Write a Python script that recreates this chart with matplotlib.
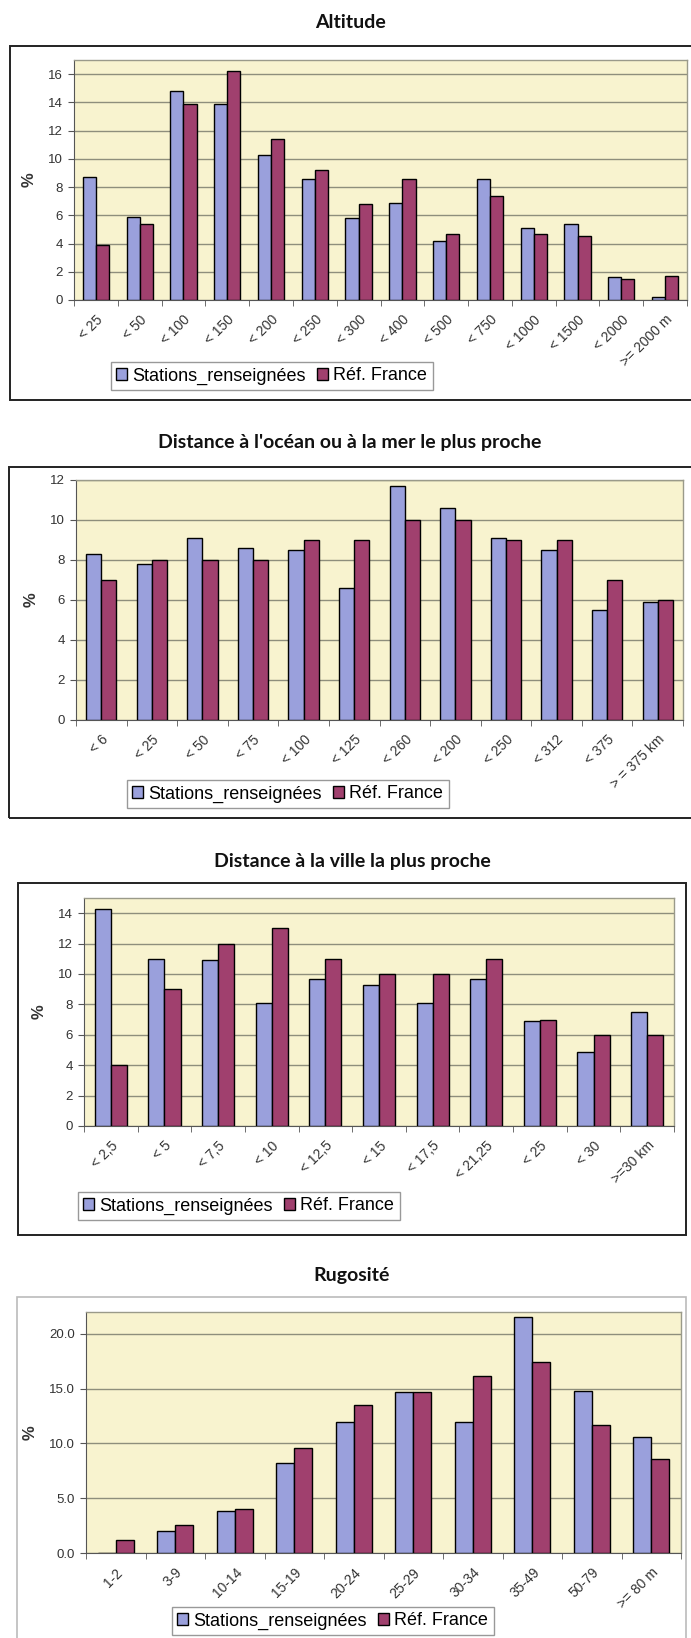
import matplotlib
matplotlib.use('Agg')
import matplotlib.pyplot as plt
from matplotlib.patches import Rectangle
import numpy as np

plt.rcParams['font.family'] = ['Liberation Sans', 'DejaVu Sans']

# ---- data ----
alt_labels = ['< 25', '< 50', '< 100', '< 150', '< 200', '< 250', '< 300', '< 400',
              '< 500', '< 750', '< 1000', '< 1500', '< 2000', '>= 2000 m']
alt_stations = [8.7, 5.9, 14.8, 13.9, 10.3, 8.6, 5.8, 6.9, 4.2, 8.6, 5.1, 5.4, 1.6, 0.2]
alt_france = [3.9, 5.4, 13.9, 16.2, 11.4, 9.2, 6.8, 8.6, 4.7, 7.4, 4.7, 4.5, 1.5, 1.7]

mer_labels = ['< 6', '< 25', '< 50', '< 75', '< 100', '< 125', '< 260', '< 200',
              '< 250', '< 312', '< 375', '> = 375 km']
mer_stations = [8.3, 7.8, 9.1, 8.6, 8.5, 6.6, 11.7, 10.6, 9.1, 8.5, 5.5, 5.9]
mer_france = [7, 8, 8, 8, 9, 9, 10, 10, 9, 9, 7, 6]

ville_labels = ['< 2,5', '< 5', '< 7,5', '< 10', '< 12,5', '< 15', '< 17,5', '< 21,25',
                '< 25', '< 30', '>=30 km']
ville_stations = [14.3, 11.0, 10.9, 8.1, 9.7, 9.3, 8.1, 9.7, 6.9, 4.9, 7.5]
ville_france = [4, 9, 12, 13, 11, 10, 10, 11, 7, 6, 6]

rug_labels = ['1-2', '3-9', '10-14', '15-19', '20-24', '25-29', '30-34', '35-49',
              '50-79', '>= 80 m']
rug_stations = [0, 2.0, 3.8, 8.2, 12.0, 14.7, 12.0, 21.5, 14.8, 10.6]
rug_france = [1.2, 2.6, 4.0, 9.6, 13.5, 14.7, 16.2, 17.4, 11.7, 8.6]

W, H = 691, 1638
fig = plt.figure(figsize=(W / 100, H / 100), dpi=100)
fig.patch.set_facecolor('white')

BLUE = '#9AA0DC'
MAROON = '#A0406E'
PLOT_BG = '#F8F3CF'
GRID = '#8E8E7C'


def fx(px):
    return px / W


def fy(py):
    return 1 - py / H


def draw_chart(title, title_y, frame, plot, legend_xy, labels, s1, s2,
               ymax, yticks, ytick_labels, frame_color='#222222', frame_lw=1.4):
    # outer frame of the chart
    fx0, fy0, fx1, fy1 = frame
    fig.patches.append(Rectangle((fx(fx0), fy(fy1)), fx(fx1 - fx0), (fy1 - fy0) / H,
                                 transform=fig.transFigure, fill=False,
                                 edgecolor=frame_color, linewidth=frame_lw, zorder=0))
    # title
    fig.text(fx((fx0 + min(fx1, 691)) / 2), fy(title_y), title, ha='center', va='center',
             fontsize=14, fontweight='bold', family=['Lato', 'DejaVu Sans'], color='#111111')

    px0, py0, px1, py1 = plot
    ax = fig.add_axes([fx(px0), fy(py1), fx(px1 - px0), (py1 - py0) / H])
    ax.set_facecolor(PLOT_BG)

    n = len(labels)
    x = np.arange(n)
    bw = 0.3
    ax.bar(x - bw / 2, s1, width=bw, color=BLUE, edgecolor='black', linewidth=1.0,
           label='Stations_renseignées', zorder=3)
    ax.bar(x + bw / 2, s2, width=bw, color=MAROON, edgecolor='black', linewidth=1.0,
           label='Réf. France', zorder=3)

    ax.set_xlim(-0.5, n - 0.5)
    ax.set_ylim(0, ymax)
    ax.set_yticks(yticks)
    ax.set_yticklabels(ytick_labels)
    ax.yaxis.grid(True, color=GRID, linewidth=1.0)
    ax.set_axisbelow(True)

    # category labels centered, tick marks between categories
    ax.set_xticks(x)
    ax.set_xticklabels(labels, rotation=45, ha='right', rotation_mode='anchor',
                       fontsize=10, color='#333333')
    ax.tick_params(axis='x', which='major', length=0, pad=9)
    ax.set_xticks(np.arange(n + 1) - 0.5, minor=True)
    ax.tick_params(axis='x', which='minor', length=4, color='#555555', direction='out')
    ax.tick_params(axis='y', length=4, color='#555555', labelsize=9.5,
                   labelcolor='#333333', pad=4)

    for side in ['top', 'right']:
        ax.spines[side].set_color('#9A9A8A')
        ax.spines[side].set_linewidth(1.0)
    ax.spines['left'].set_color('#555555')
    ax.spines['bottom'].set_color('#555555')

    ax.set_ylabel('%', fontsize=12, fontweight='bold', color='#333333', labelpad=8)

    lx, ly = legend_xy
    fig.legend(handles=ax.containers[0:1] + ax.containers[1:2],
               labels=['Stations_renseignées', 'Réf. France'],
               loc='upper left', bbox_to_anchor=(fx(lx), fy(ly)),
               bbox_transform=fig.transFigure, ncol=2, fontsize=13,
               frameon=True, fancybox=False, edgecolor='#999999', framealpha=1,
               handlelength=0.6, handleheight=0.6, handletextpad=0.3,
               columnspacing=0.6, borderpad=0.3, borderaxespad=0)
    return ax


draw_chart('Altitude', 23, (10, 46, 692, 400), (74, 60, 687, 300), (111, 362),
           alt_labels, alt_stations, alt_france, 17,
           range(0, 17, 2), [str(v) for v in range(0, 17, 2)])

draw_chart("Distance à l'océan ou à la mer le plus proche", 443, (9, 467, 692, 818),
           (76, 480, 683, 720), (127, 780),
           mer_labels, mer_stations, mer_france, 12,
           range(0, 13, 2), [str(v) for v in range(0, 13, 2)])

draw_chart('Distance à la ville la plus proche', 862, (18, 883, 686, 1235),
           (84, 898, 674, 1126), (78, 1192),
           ville_labels, ville_stations, ville_france, 15,
           range(0, 15, 2), [str(v) for v in range(0, 15, 2)])

draw_chart('Rugosité', 1275, (17, 1297, 686, 1660), (86, 1312, 681, 1553), (172, 1607),
           rug_labels, rug_stations, rug_france, 22,
           [0, 5, 10, 15, 20], ['0.0', '5.0', '10.0', '15.0', '20.0'],
           frame_color='#BBBBBB', frame_lw=1.2)

fig.savefig('out.png', dpi=100, facecolor='white')
